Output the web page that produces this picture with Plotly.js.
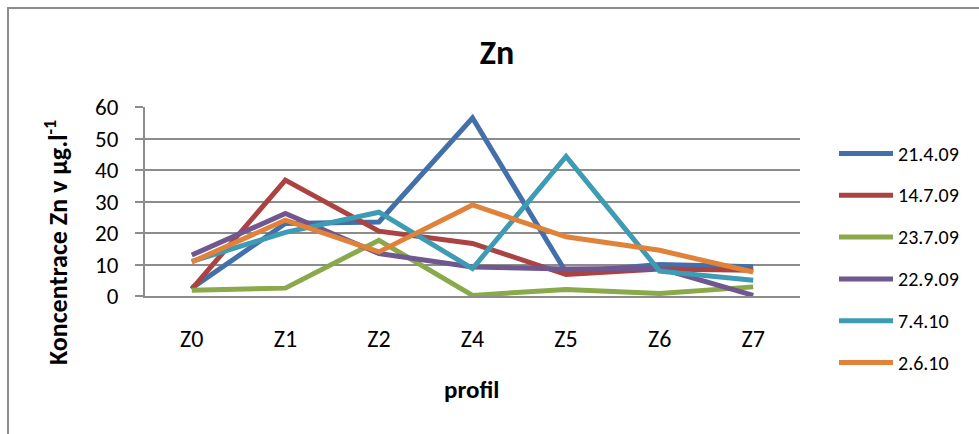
<!DOCTYPE html>
<html>
<head>
<meta charset="utf-8">
<script src="https://cdn.plot.ly/plotly-3.0.1.min.js"></script>
<style>
html,body{margin:0;padding:0;background:#fff;overflow:hidden;}
#chart{width:979px;height:434px;}
</style>
</head>
<body>
<div id="chart"></div>
<script>
const categories = ["Z0", "Z1", "Z2", "Z4", "Z5", "Z6", "Z7"];
const seriesNames = ["21.4.09", "14.7.09", "23.7.09", "22.9.09", "7.4.10", "2.6.10"];
const s_21_4_09 = [2.5, 23, 23.5, 56.5, 7.5, 10, 9.3];
const s_14_7_09 = [2.2, 36.8, 20.6, 16.7, 6.8, 8.6, 8.2];
const s_23_7_09 = [1.8, 2.5, 17.7, 0.2, 2.1, 0.8, 2.9];
const s_22_9_09 = [13, 26.2, 13.5, 9.2, 8.6, 8.8, 0.2];
const s_7_4_10 = [11, 20.2, 26.6, 8.7, 44.3, 7.9, 5];
const s_2_6_10 = [10.8, 24.1, 14, 28.9, 18.8, 14.5, 7.6];
const seriesValues = [s_21_4_09, s_14_7_09, s_23_7_09, s_22_9_09, s_7_4_10, s_2_6_10];
const colors = ["#4470A9", "#AA4341", "#89A94A", "#71578F", "#3D9BB3", "#E0823A"];

const FONT = "Carlito, 'Open Sans', sans-serif";

const traces = seriesNames.map((name, i) => ({
  type: "scatter",
  mode: "lines",
  name: name,
  x: categories,
  y: seriesValues[i],
  line: {color: colors[i], width: 5, shape: "linear"},
  showlegend: false
}));

const L = 145, R = 179, T = 107, B = 138;
const W = 979 - L - R, H = 434 - T - B;
const px = v => (v - L) / W;
const py = v => (434 - B - v) / H;

// custom legend (Excel style, long line sample)
const legendShapes = [];
const legendAnns = [];
seriesNames.forEach((name, i) => {
  const yy = 153.5 + i * 41.8;
  legendShapes.push({
    type: "line", xref: "paper", yref: "paper",
    x0: px(839), x1: px(893), y0: py(yy), y1: py(yy),
    line: {color: colors[i], width: 5}
  });
  legendAnns.push({
    text: name, xref: "paper", yref: "paper",
    x: px(896), y: py(yy), xanchor: "left", yanchor: "middle",
    showarrow: false,
    font: {family: FONT, size: 20, color: "#000"}
  });
});

const layout = {
  width: 979,
  height: 434,
  margin: {l: L, r: R, t: T, b: B, pad: 0},
  paper_bgcolor: "#ffffff",
  plot_bgcolor: "#ffffff",
  font: {family: FONT, size: 20, color: "#000"},
  title: {
    text: "<b>Zn</b>",
    font: {family: FONT, size: 34, color: "#000"},
    x: 497 / 979, xanchor: "center",
    y: 1 - 52 / 434, yanchor: "middle"
  },
  xaxis: {
    type: "category",
    range: [-0.5, 6.5],
    showgrid: false,
    showline: true,
    linecolor: "#8c8c8c",
    linewidth: 2,
    ticks: "",
    ticklabelstandoff: 20,
    tickfont: {family: FONT, size: 24, color: "#000"},
    zeroline: false,
    automargin: false,
    fixedrange: true
  },
  yaxis: {
    range: [0, 60],
    tickvals: [0, 10, 20, 30, 40, 50, 60],
    showgrid: true,
    gridcolor: "#8c8c8c",
    gridwidth: 2,
    showline: true,
    linecolor: "#8c8c8c",
    linewidth: 2,
    ticks: "outside",
    ticklen: 8,
    tickwidth: 2,
    tickcolor: "#8c8c8c",
    ticklabelstandoff: 12,
    tickfont: {family: FONT, size: 23, color: "#000"},
    zeroline: false,
    automargin: false,
    fixedrange: true
  },
  showlegend: false,
  annotations: [{
    text: "<b>Koncentrace Zn v µg.l<sup>-1</sup></b>",
    xref: "paper", yref: "paper",
    x: px(56), y: py(243),
    xanchor: "center", yanchor: "middle",
    textangle: -90,
    showarrow: false,
    font: {family: FONT, size: 26, color: "#000"}
  }, {
    text: "<b>profil</b>",
    xref: "paper", yref: "paper",
    x: px(471), y: py(389),
    xanchor: "center", yanchor: "middle",
    showarrow: false,
    font: {family: FONT, size: 25, color: "#000"}
  }].concat(legendAnns),
  shapes: [{
    type: "rect",
    xref: "paper", yref: "paper",
    x0: px(8), x1: px(1100),
    y0: py(600), y1: py(8),
    line: {color: "#8c8c8c", width: 2},
    fillcolor: "rgba(0,0,0,0)",
    layer: "below"
  }].concat(legendShapes)
};

Plotly.newPlot("chart", traces, layout, {displayModeBar: false, staticPlot: true});
</script>
</body>
</html>
